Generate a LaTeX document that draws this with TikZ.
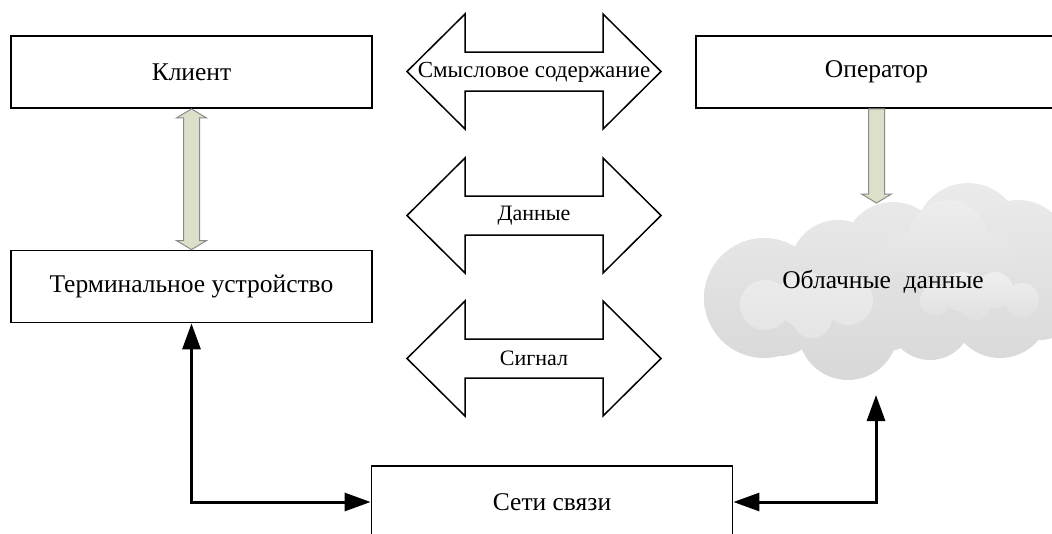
\documentclass[tikz,border=0pt]{standalone}
\usepackage{fontspec}
\setmainfont{Liberation Serif}
\usetikzlibrary{arrows.meta,calc}
\definecolor{olivefill}{HTML}{DDE0C8}
\definecolor{fatedge}{HTML}{8A8A8A}
\begin{document}
\begin{tikzpicture}[x=1pt,y=-1pt,
 box/.style={draw=black,line width=1.8pt,minimum width=361pt,minimum height=72pt,inner sep=0pt,font=\fontsize{25.5}{30}\selectfont},
 lbl/.style={font=\fontsize{22}{26}\selectfont,inner sep=0pt},
 bigarrow/.style={draw=black,line width=1.5pt,fill=white,line join=miter},
 fatarrow/.style={draw=fatedge,line width=1pt,fill=olivefill},
 blk/.style={line width=3pt,{Triangle[length=26pt,width=18pt]}-{Triangle[length=26pt,width=18pt]}},
 pics/bigdarrow/.style={code={\draw[bigarrow] (-127,0) -- (-69,-57.5) -- (-69,-19.5) -- (69,-19.5) -- (69,-57.5) -- (127,0) -- (69,57.5) -- (69,19.5) -- (-69,19.5) -- (-69,57.5) -- cycle;}},
]
\useasboundingbox (0,0) rectangle (1052,533);

% boxes
\node[box] (klient) at (191.5,72) {Клиент};
\node[box] (term) at (191.5,286.5) {Терминальное устройство};
\node[box] (oper) at (876.5,72) {Оператор};
\node[box] (sv) at (552,502) {Сети связи};

% big double arrows
\pic at (534,71.5) {bigdarrow};
\pic at (534,215.5) {bigdarrow};
\pic at (534,358.5) {bigdarrow};
\node[lbl,font=\fontsize{23}{27}\selectfont] (sem) at (534,72) {Смысловое содержание};
\node[lbl] (dat) at (534,216) {Данные};
\node[lbl] (sig) at (534,358) {Сигнал};

% cloud
\shade[top color=gray!16, bottom color=gray!31]
 (764,298) circle[radius=60pt]
 (780,316) circle[radius=40pt]
 (838,268) circle[radius=48pt]
 (893,252) circle[radius=50pt]
 (968,236) circle[radius=53pt]
 (1018,252) circle[radius=52pt]
 (880,292) circle[radius=60pt]
 (848,330) circle[radius=50pt]
 (930,318) circle[radius=42pt]
 (1000,308) circle[radius=50pt]
 (1040,300) circle[radius=40pt];
\shade[top color=gray!14, bottom color=gray!27]
 (905,262) circle[radius=28pt]
 (948,240) circle[radius=40pt]
 (990,262) circle[radius=28pt]
 (935,272) circle[radius=30pt]
 (872,268) circle[radius=14pt];
\shade[top color=gray!13, bottom color=gray!24]
 (935,300) circle[radius=15pt]
 (962,292) circle[radius=20pt]
 (995,290) circle[radius=18pt]
 (1022,300) circle[radius=17pt]
 (975,305) circle[radius=15pt];
\shade[top color=gray!15, bottom color=gray!21]
 (765,305) circle[radius=25pt]
 (805,300) circle[radius=28pt]
 (848,300) circle[radius=25pt]
 (812,318) circle[radius=20pt];
\node[lbl,font=\fontsize{25.5}{30}\selectfont] (cloud) at (883,282) {Облачные\ \ данные};
\coordinate (cloudtop) at (876.5,203);
\coordinate (cloudbot) at (876,395);

% fat arrows
\path[fatarrow] let \p1=(klient.south), \p2=(term.north) in
 (\x1,\y1) -- (\x1+15pt,\y1-9pt) -- (\x1+8pt,\y1-9pt) -- (\x1+8pt,\y2+9pt) -- (\x1+15pt,\y2+9pt) -- (\x1,\y2)
 -- (\x1-15pt,\y2+9pt) -- (\x1-8pt,\y2+9pt) -- (\x1-8pt,\y1-9pt) -- (\x1-15pt,\y1-9pt) -- cycle;
\path[fatarrow] let \p1=(oper.south), \p2=(cloudtop) in
 (\x1-8pt,\y1) -- (\x1+8pt,\y1) -- (\x1+8pt,\y2+9pt) -- (\x1+15pt,\y2+9pt) -- (\x1,\y2)
 -- (\x1-15pt,\y2+9pt) -- (\x1-8pt,\y2+9pt) -- cycle;

% black connectors
\draw[blk] (term.south) |- (sv.west);
\draw[blk] (sv.east) -| (cloudbot);
\end{tikzpicture}
\end{document}
